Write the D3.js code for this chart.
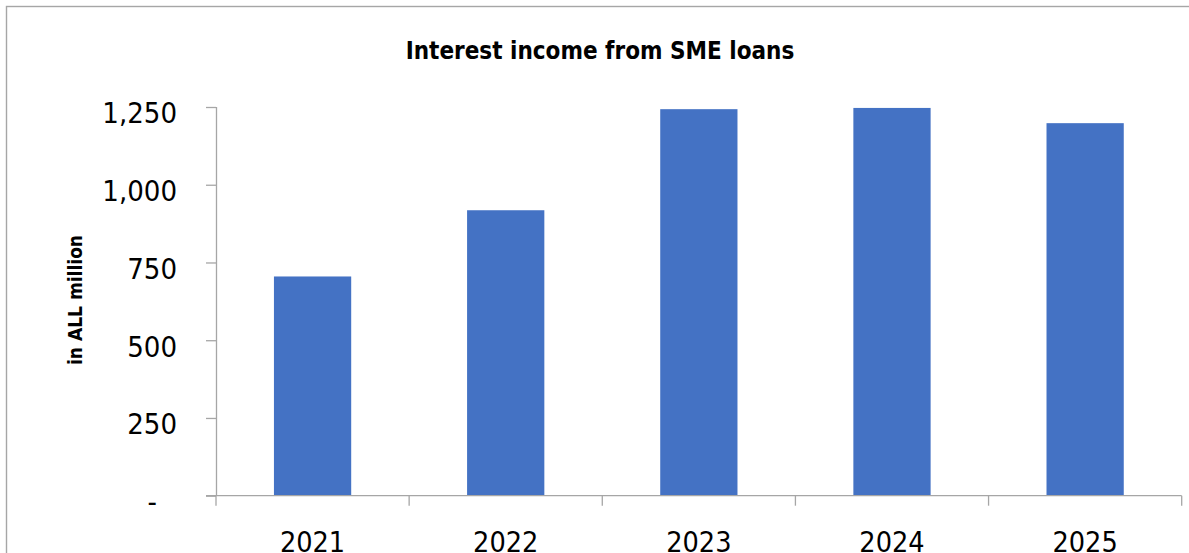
<!DOCTYPE html>
<html>
<head>
<meta charset="utf-8">
<script src="https://cdn.jsdelivr.net/npm/d3@7"></script>
<style>
  html, body { margin: 0; padding: 0; background: #fff; }
  svg { display: block; }
  .lbl { font-family: "DejaVu Sans Condensed", "DejaVu Sans", sans-serif; font-stretch: condensed; }
</style>
</head>
<body>
<svg id="chart" width="1189" height="553"></svg>
<script>
// Interest income from SME loans, in ALL million
const years = ["2021", "2022", "2023", "2024", "2025"];
const income = [705, 918, 1243, 1247, 1198];
const yTicks = [0, 250, 500, 750, 1000, 1250];
const titleText = "Interest income from SME loans";
const yAxisTitle = "in ALL million";

const W = 1189, H = 553;
const plotL = 216, plotR = 1181.7, plotT = 107, plotB = 495.7;
const barColor = "#4472C4";
const axisColor = "#a6a6a6";

const svg = d3.select("#chart");

// chart-area frame
svg.append("rect")
  .attr("x", 6.5).attr("y", 6.5)
  .attr("width", W + 20).attr("height", H + 20)
  .attr("fill", "#fff")
  .attr("stroke", axisColor).attr("stroke-width", 1.4);

const x = d3.scaleBand().domain(years).range([plotL, plotR]).paddingInner(0.6).paddingOuter(0.3);
const y = d3.scaleLinear().domain([0, 1250]).range([plotB, plotT]);

// bars
svg.append("g").selectAll("rect")
  .data(years.map((yr, i) => ({ yr, v: income[i] })))
  .join("rect")
  .attr("x", d => x(d.yr))
  .attr("width", x.bandwidth())
  .attr("y", d => y(d.v))
  .attr("height", d => y(0) - y(d.v))
  .attr("fill", barColor);

// y axis
const fmt = d3.format(",");
const gy = svg.append("g")
  .attr("transform", `translate(${plotL},0)`)
  .call(d3.axisLeft(y).tickValues(yTicks).tickSize(10).tickPadding(29)
    .tickFormat(d => d === 0 ? "-" : fmt(d)));
gy.select(".domain").attr("stroke", axisColor).attr("stroke-width", 1.3)
  .attr("d", `M0.5,${plotT}V${plotB}`);
gy.selectAll(".tick line").attr("stroke", axisColor).attr("stroke-width", 1.3);
gy.selectAll(".tick text")
  .attr("class", "lbl")
  .attr("font-size", 29).attr("fill", "#000")
  .attr("dy", "0.55em");
gy.selectAll(".tick text").filter(d => d === 0).attr("dx", -20);

// x axis: labels centred in each band, tick marks on band edges
const gx = svg.append("g")
  .attr("transform", `translate(0,${plotB})`)
  .call(d3.axisBottom(x).tickSize(0).tickPadding(36));
gx.select(".domain").remove();
gx.selectAll(".tick text")
  .attr("class", "lbl")
  .attr("font-size", 28.5).attr("fill", "#000");

const step = (plotR - plotL) / years.length;
const edges = d3.range(years.length + 1).map(i => plotL + i * step);
svg.append("line")
  .attr("x1", plotL - 10).attr("x2", plotR)
  .attr("y1", plotB).attr("y2", plotB)
  .attr("stroke", axisColor).attr("stroke-width", 1.3);
svg.append("g").selectAll("line")
  .data(edges)
  .join("line")
  .attr("x1", d => d).attr("x2", d => d)
  .attr("y1", plotB).attr("y2", plotB + 10)
  .attr("stroke", axisColor).attr("stroke-width", 1.3);

// title
svg.append("text")
  .attr("class", "lbl")
  .attr("x", 600).attr("y", 59)
  .attr("text-anchor", "middle")
  .attr("font-size", 24).attr("font-weight", "bold")
  .text(titleText);

// y axis title
svg.append("text")
  .attr("class", "lbl")
  .attr("transform", "translate(82,300) rotate(-90)")
  .attr("text-anchor", "middle")
  .attr("font-size", 19).attr("font-weight", "bold")
  .text(yAxisTitle);
</script>
</body>
</html>
